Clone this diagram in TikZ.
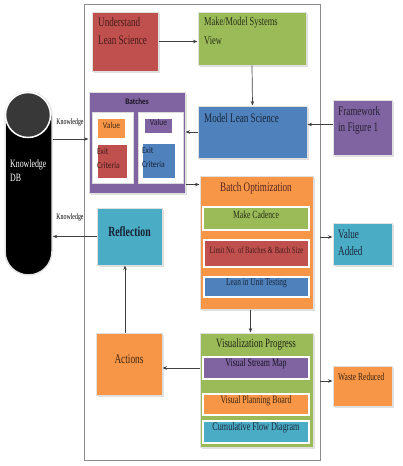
\documentclass[tikz,border=0pt]{standalone}
\usepackage{fontspec}
\setmainfont{Liberation Serif}[FakeStretch=0.7]
\newfontfamily\calfont{Carlito}[FakeStretch=0.85]
\usetikzlibrary{fit,shadows,arrows.meta}
\definecolor{cred}{HTML}{C0504D}
\definecolor{cgreen}{HTML}{9BBB59}
\definecolor{cblue}{HTML}{4F81BD}
\definecolor{cpurple}{HTML}{8064A2}
\definecolor{corange}{HTML}{F79646}
\definecolor{cteal}{HTML}{4BACC6}
\newcommand\fs[2]{\fontsize{#1}{#2}\selectfont}
\begin{document}
\begin{tikzpicture}[x=1pt,y=-1pt,
  obox/.style={draw=black!12, line width=1pt, inner sep=0pt,
    drop shadow={shadow xshift=1.5pt, shadow yshift=-1.5pt, opacity=0.25}},
  ibox/.style={draw=white, line width=1.5pt, inner sep=0pt},
  pbox/.style={draw=black!15, line width=0.8pt, fill=white, inner sep=0pt},
  tl/.style={anchor=north west, inner sep=0pt, align=left},
  conn/.style={draw=black!75, line width=0.7pt, -{Stealth[length=4.5pt,width=3.5pt]}},
  lbl/.style={font=\fs{8.4}{10}, inner sep=0pt}
]
\useasboundingbox (0,0) rectangle (402,466);
\fill[white] (0,0) rectangle (402,466);

% frame
\node[draw=black!45, line width=0.8pt, fit={(84,4)(320,460)}, inner sep=0pt] (frame) {};

% top row
\node[obox, fill=cred, fit={(92,12)(158,71)}] (und) {};
\node[tl, text=cred!35!black, font=\fs{13}{18}] (undt) at (98,17) {Understand\\Lean Science};
\node[obox, fill=cgreen, fit={(198,12)(306,65)}] (make) {};
\node[tl, text=cgreen!25!black, font=\fs{12}{19}] (maket) at (204,17) {Make/Model Systems\\View};

% model lean science
\node[obox, fill=cblue, fit={(198,106)(307,158)}] (mls) {};
\node[tl, text=cblue!30!black, font=\fs{13}{18}] (mlst) at (204,113) {Model Lean Science};
\node[obox, fill=cpurple, fit={(333,100)(392,155)}] (fw) {};
\node[tl, text=cpurple!30!black, font=\fs{13}{16}] (fwt) at (338,106) {Framework\\in Figure 1};

% knowledge db
\node[fill=black, draw=black!10, line width=1.5pt, rounded corners=23.5pt, fit={(5,92)(52,275)}, inner sep=0pt] (db) {};
\node[circle, fill=black!78, draw=white, line width=1.5pt, minimum size=45pt, inner sep=0pt] (dbtop) at (28,115) {};
\node[tl, text=white, font=\fs{11.2}{14}] (dbt) at (10,160) {Knowledge\\DB};

% batches
\node[obox, fill=cpurple, fit={(89,92)(185,193)}] (bat) {};
\node[font=\calfont\bfseries\fs{8.5}{10}, text=cpurple!20!black, inner sep=0pt] (batt) at (137,102) {Batches};
\node[pbox, fit={(92,112)(133,183)}] (pl) {};
\node[pbox, fit={(138,112)(183,183)}] (pr) {};
\node[ibox, fill=corange, fit={(97,118)(126,139)}, font=\calfont\fs{9}{11}, text=corange!30!black] (v1) {Value};
\node[ibox, fill=cred, fit={(97,144)(128,179)}, font=\calfont\fs{9}{14}, text=cred!35!black, align=left] (e1) {Exit\\Criteria};
\node[ibox, fill=cpurple, fit={(144,118)(173,134)}, font=\calfont\fs{9}{11}, text=cpurple!30!black] (v2) {Value};
\node[ibox, fill=cblue, fit={(142,143)(176,179)}, font=\calfont\fs{9}{14}, text=cblue!30!black, align=left] (e2) {Exit\\Criteria};

% batch optimization
\node[obox, fill=corange, fit={(200,176)(313,309)}] (bo) {};
\node[font=\fs{13}{15}, text=cred!45!black, inner sep=0pt] (bot) at (256,188) {Batch Optimization};
\node[ibox, fill=cgreen, fit={(203,207)(309,230)}, font=\fs{11}{13}, text=cgreen!25!black] (mc) {Make Cadence};
\node[ibox, fill=cred, fit={(204,240)(309,267)}, font=\fs{9.5}{11}, text=cred!35!black] (lim) {Limit No. of Batches \& Batch Size};
\node[ibox, fill=cblue, fit={(204,277)(309,297)}, font=\fs{10.5}{12}, text=cblue!30!black] (lut) {Lean in Unit Testing};
\node[obox, fill=cteal, fit={(333,223)(392,265)}] (va) {};
\node[tl, text=cblue!30!black, font=\fs{13}{17}] (vat) at (338,229) {Value\\Added};

% reflection / actions
\node[obox, fill=cteal, fit={(97,208)(162,265)}, font=\bfseries\fs{14}{16}, text=cblue!25!black] (refl) {Reflection};
\node[obox, fill=corange, fit={(96,333)(162,395)}, font=\fs{13.3}{15}, text=corange!25!black] (act) {Actions};

% visualization progress
\node[obox, fill=cgreen, fit={(200,333)(313,447)}] (vp) {};
\node[font=\fs{12.7}{15}, text=cgreen!20!black, inner sep=0pt] (vpt) at (256,344) {Visualization Progress};
\node[ibox, fill=cpurple, fit={(203,357)(309,379)}, font=\fs{11.3}{13}, text=cpurple!20!black] (vsm) {Visual Stream Map};
\node[ibox, fill=corange, fit={(203,394)(309,415)}, font=\fs{11.2}{13}, text=corange!25!black] (vpb) {Visual Planning Board};
\node[ibox, fill=cteal, fit={(203,421)(309,443)}, font=\fs{11.6}{13}, text=cblue!30!black] (cfd) {Cumulative Flow Diagram};
\node[obox, fill=corange, fit={(333,366)(392,406)}] (wr) {};
\node[tl, text=corange!25!black, font=\fs{10.7}{12}] (wrt) at (338,373) {Waste Reduced};

% labels
\node[lbl] (k1) at (70,122) {Knowledge};
\node[lbl] (k2) at (70,217) {Knowledge};

% connectors
\draw[conn] (und.east) -- (und.east -| make.west);
\draw[conn] (make.south) -- (mls.north);
\draw[conn] ([yshift=3]fw.west) -- ([yshift=3]fw.west -| mls.east);
\draw[conn] (mls.west) -- (mls.west -| bat.east);
\draw[conn] ([yshift=3.5]bat.west -| db.east) -- ([yshift=3.5]bat.west);
\draw[conn] ([yshift=-9]bo.north west -| bat.east) -- ([yshift=-9]bo.north west);
\draw[conn] (refl.west) -- (refl.west -| db.east);
\draw[conn] ([xshift=-4]act.north) -- ([xshift=-4]act.north |- refl.south);
\draw[conn] ([xshift=-6]bo.south) -- ([xshift=-6]bo.south |- vp.north);
\draw[conn] (vsm.west -| vp.west) -- (vsm.west -| act.east);
\draw[conn] ([yshift=7]va.west -| frame.east) -- ([yshift=7]va.west);
\draw[conn] ([yshift=5]wr.west -| frame.east) -- ([yshift=5]wr.west);
\end{tikzpicture}
\end{document}
